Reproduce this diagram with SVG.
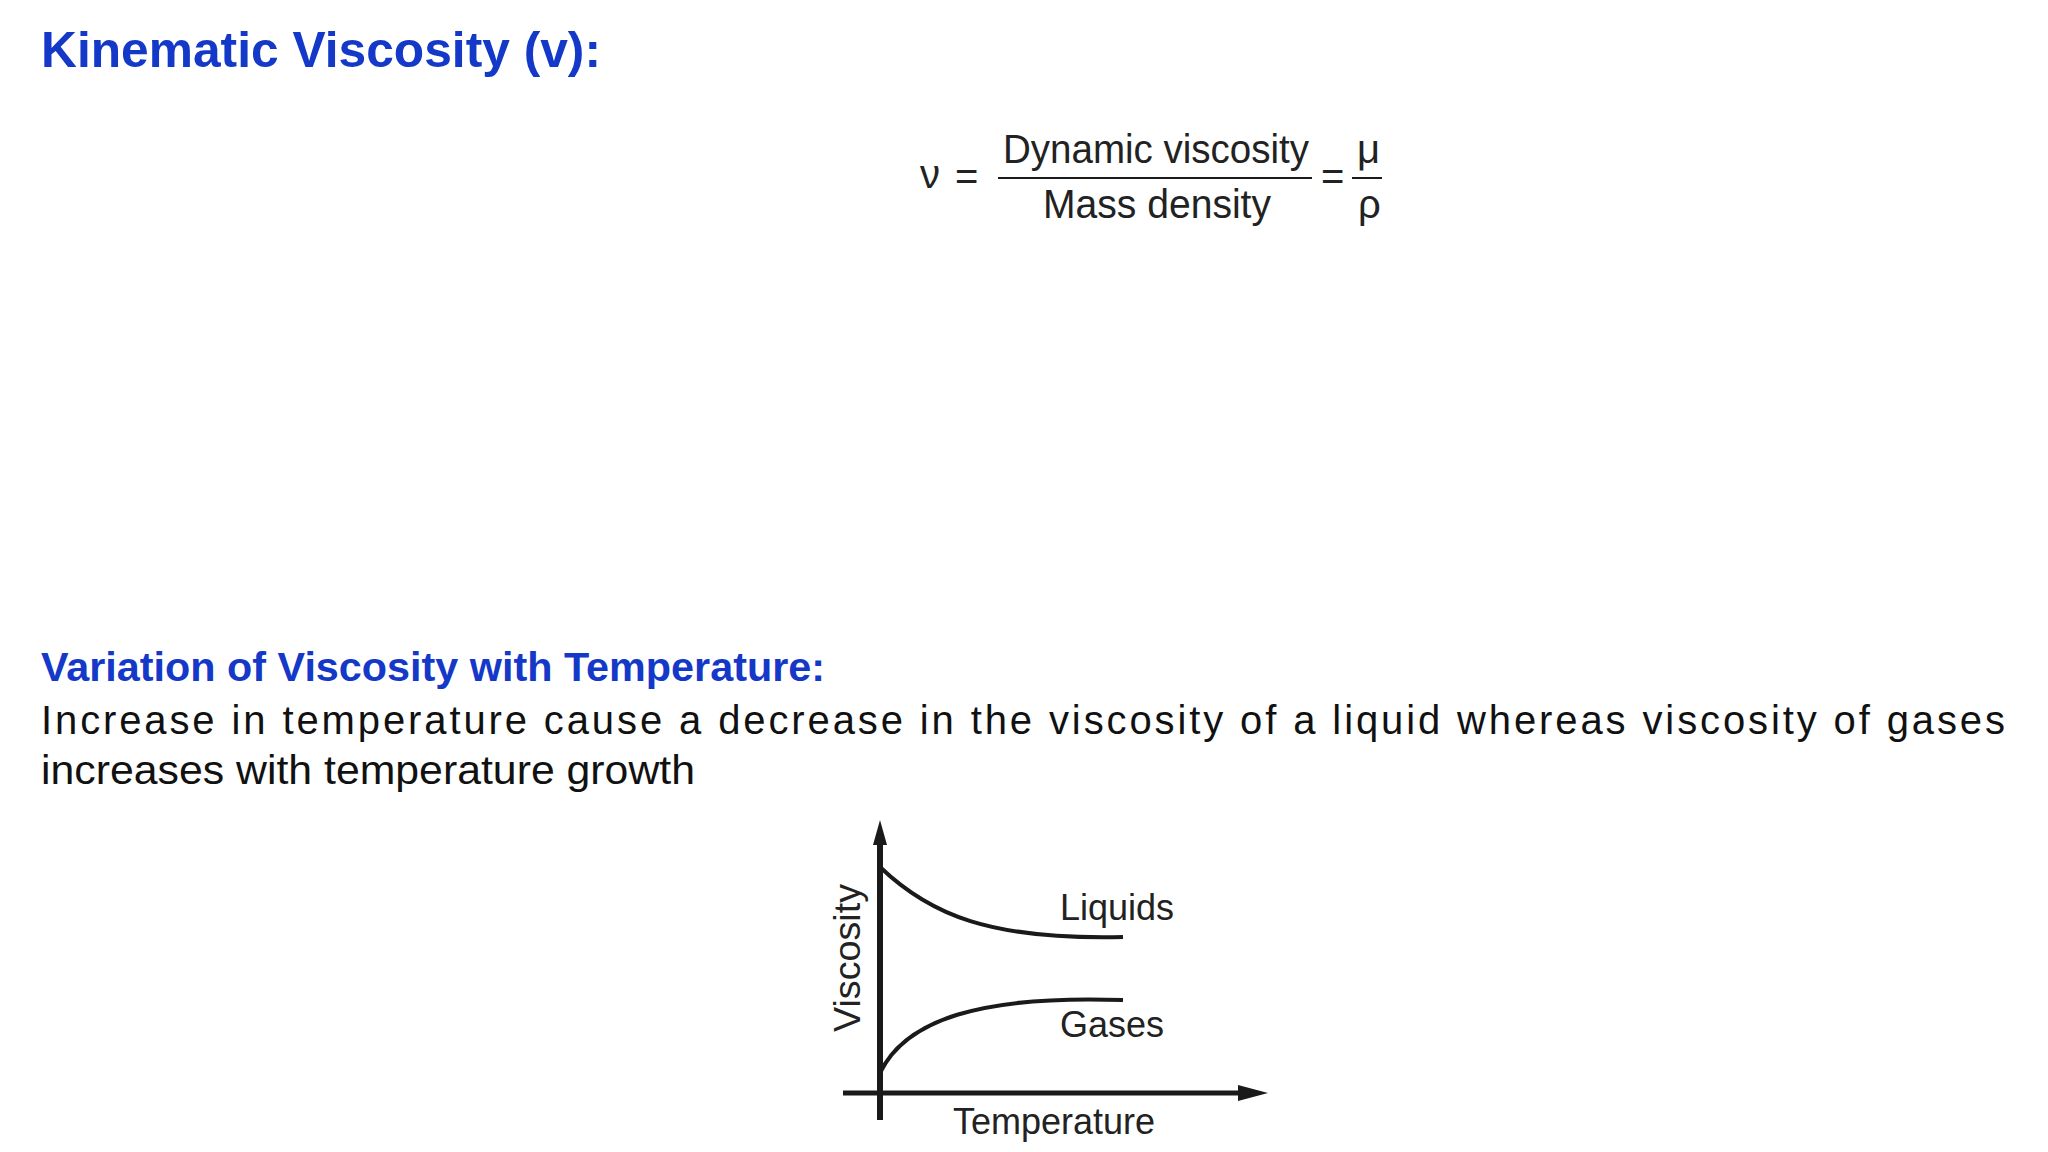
<svg xmlns="http://www.w3.org/2000/svg" width="2048" height="1152" viewBox="0 0 2048 1152">
<defs>
<style>
.h{font-family:"Liberation Sans",Arial,sans-serif;font-weight:bold;fill:#1438c8}
.b{font-family:"Liberation Sans",Arial,sans-serif;fill:#111;font-size:40px}
.f{font-family:"Liberation Sans",Arial,sans-serif;fill:#222;font-size:40px}
.g{font-family:"Liberation Sans",Arial,sans-serif;fill:#222;font-size:36px}
.ln{stroke:#1a1a1a;fill:none}
</style>
</defs>
<rect width="2048" height="1152" fill="#fff"/>
<g id="title"><text class="h" x="41" y="67" font-size="50" textLength="560" lengthAdjust="spacingAndGlyphs">Kinematic Viscosity (v):</text></g>
<g id="formula">
<text class="f" x="920" y="188">ν</text>
<text class="f" x="955" y="190">=</text>
<text class="f" x="1003" y="163" textLength="306" lengthAdjust="spacingAndGlyphs">Dynamic viscosity</text>
<line class="ln" x1="998" y1="178" x2="1312" y2="178" stroke-width="2" stroke="#555"/>
<text class="f" x="1043" y="218" textLength="228" lengthAdjust="spacingAndGlyphs">Mass density</text>
<text class="f" x="1321" y="190">=</text>
<text class="f" x="1357" y="163">μ</text>
<line class="ln" x1="1352" y1="178" x2="1382" y2="178" stroke-width="2" stroke="#555"/>
<text class="f" x="1358" y="218">ρ</text>
</g>
<g id="subtitle"><text class="h" x="41" y="681" font-size="41" textLength="784" lengthAdjust="spacingAndGlyphs">Variation of Viscosity with Temperature:</text></g>
<g id="body">
<text class="b" x="41" y="734" textLength="1964" lengthAdjust="spacing">Increase in temperature cause a decrease in the viscosity of a liquid whereas viscosity of gases</text>
<text class="b" x="41" y="784" textLength="654" lengthAdjust="spacingAndGlyphs">increases with temperature growth</text>
</g>
<g id="chart">
<g id="connectors">
<line class="ln" x1="880" y1="835" x2="880" y2="1120" stroke-width="6"/>
<polygon points="880,820 873,845 887,845" fill="#1a1a1a"/>
<line class="ln" x1="843" y1="1093" x2="1250" y2="1093" stroke-width="5"/>
<polygon points="1268,1093 1238,1085 1238,1101" fill="#1a1a1a"/>
<path class="ln" d="M880,867 C930,915 990,940 1123,937" stroke-width="4"/>
<path class="ln" d="M880,1073 C905,1020 980,995 1123,1000" stroke-width="4"/>
</g>
<text class="g" x="1060" y="920">Liquids</text>
<text class="g" x="1060" y="1037">Gases</text>
<text class="g" x="953" y="1134">Temperature</text>
<text class="g" transform="translate(860,1032) rotate(-90)" textLength="148" lengthAdjust="spacingAndGlyphs">Viscosity</text>
</g>
</svg>
